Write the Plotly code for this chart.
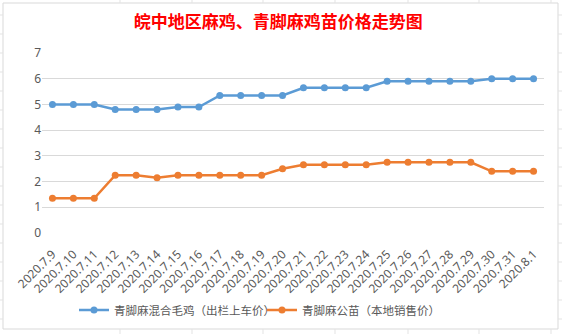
import plotly.graph_objects as go

dates = ["2020.7.9", "2020.7.10", "2020.7.11", "2020.7.12", "2020.7.13", "2020.7.14",
         "2020.7.15", "2020.7.16", "2020.7.17", "2020.7.18", "2020.7.19", "2020.7.20",
         "2020.7.21", "2020.7.22", "2020.7.23", "2020.7.24", "2020.7.25", "2020.7.26",
         "2020.7.27", "2020.7.28", "2020.7.29", "2020.7.30", "2020.7.31", "2020.8.1"]
mixed_chicken = [5.0, 5.0, 5.0, 4.8, 4.8, 4.8, 4.9, 4.9, 5.35, 5.35, 5.35, 5.35,
                 5.65, 5.65, 5.65, 5.65, 5.9, 5.9, 5.9, 5.9, 5.9, 6.0, 6.0, 6.0]
male_chick = [1.35, 1.35, 1.35, 2.25, 2.25, 2.15, 2.25, 2.25, 2.25, 2.25, 2.25, 2.5,
              2.65, 2.65, 2.65, 2.65, 2.75, 2.75, 2.75, 2.75, 2.75, 2.4, 2.4, 2.4]
series_names = ["青脚麻混合毛鸡（出栏上车价）", "青脚麻公苗（本地销售价）"]
y_ticks = [0, 1, 2, 3, 4, 5, 6, 7]
title_text = "皖中地区麻鸡、青脚麻鸡苗价格走势图"

W, H = 562, 334
font_family = "Noto Sans CJK SC, Microsoft YaHei, sans-serif"
latin_family = "Noto Sans, Open Sans, sans-serif"

fig = go.Figure()
fig.add_trace(go.Scatter(x=dates, y=mixed_chicken, name=series_names[0], mode="lines+markers",
                         line=dict(color="#5B9BD5", width=2.5),
                         marker=dict(color="#5B9BD5", size=7), legend="legend"))
fig.add_trace(go.Scatter(x=dates, y=male_chick, name=series_names[1], mode="lines+markers",
                         line=dict(color="#ED7D31", width=2.5),
                         marker=dict(color="#ED7D31", size=7), legend="legend2"))

shapes = []
# faint spreadsheet grid lines outside the chart frame
grid_c = "#E3E3E3"
for xv in [120, 192, 263, 335, 408, 479, 551]:
    shapes.append(dict(type="line", xref="paper", yref="paper",
                       x0=(xv - 42) / 502, x1=(xv - 42) / 502,
                       y0=(233 - 0) / 180, y1=(233 - 3) / 180,
                       line=dict(color=grid_c, width=1)))
    shapes.append(dict(type="line", xref="paper", yref="paper",
                       x0=(xv - 42) / 502, x1=(xv - 42) / 502,
                       y0=(233 - 329) / 180, y1=(233 - 334) / 180,
                       line=dict(color=grid_c, width=1)))
for yv in [15, 34, 53, 72, 91, 110, 129, 148, 167, 186, 205, 224, 243, 262, 281, 300, 319]:
    yy = (233 - yv) / 180
    shapes.append(dict(type="line", xref="paper", yref="paper",
                       x0=(0 - 42) / 502, x1=(3 - 42) / 502, y0=yy, y1=yy,
                       line=dict(color=grid_c, width=1)))
    shapes.append(dict(type="line", xref="paper", yref="paper",
                       x0=(558 - 42) / 502, x1=(562 - 42) / 502, y0=yy, y1=yy,
                       line=dict(color=grid_c, width=1)))
# chart frame
shapes.append(dict(type="rect", xref="paper", yref="paper",
                   x0=(3 - 42) / 502, x1=(558 - 42) / 502,
                   y0=(233 - 329) / 180, y1=(233 - 3) / 180,
                   line=dict(color="#D9D9D9", width=1), fillcolor="rgba(0,0,0,0)", layer="below"))

legend_common = dict(orientation="h", xref="container", yref="container",
                     xanchor="left", y=1 - 310 / H, yanchor="middle",
                     font=dict(family=font_family, size=11.5, color="#595959"), itemwidth=30,
                     bgcolor="rgba(0,0,0,0)")

fig.update_layout(
    width=W, height=H,
    margin=dict(l=42, r=18, t=53, b=101, autoexpand=False),
    paper_bgcolor="white", plot_bgcolor="white",
    font=dict(family=font_family, color="#595959", size=12),
    title=dict(text="<b>" + title_text + "</b>", x=0.495, xanchor="center",
               xref="container", y=1 - 22 / H, yref="container", yanchor="middle",
               font=dict(family="Noto Sans CJK SC, serif", size=17, color="#FF0000")),
    showlegend=True,
    legend=dict(x=74 / W, **legend_common),
    legend2=dict(x=262 / W, **legend_common),
    xaxis=dict(type="category", range=[-0.5, len(dates) - 0.5], tickangle=-45,
               showgrid=False, showline=False, ticks="", zeroline=False,
               ticklabelstandoff=11, automargin=False,
               tickfont=dict(family=latin_family, size=12, color="#595959")),
    yaxis=dict(range=[0, 7], tickvals=y_ticks, showgrid=True, gridcolor="#D9D9D9",
               gridwidth=1, zeroline=False, showline=False, ticks="", automargin=False,
               tickfont=dict(family=latin_family, size=12, color="#595959")),
    shapes=shapes,
    hovermode=False,
)

fig.write_html("out.html")
